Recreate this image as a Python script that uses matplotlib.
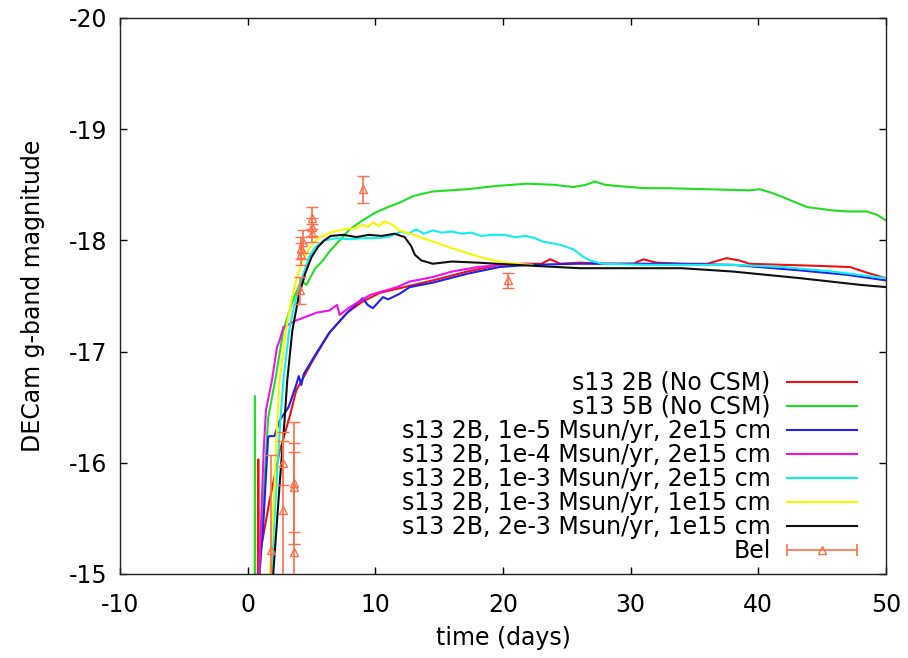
import numpy as np
import matplotlib
matplotlib.use('Agg')
import matplotlib.pyplot as plt
from matplotlib.lines import Line2D
from matplotlib.legend_handler import HandlerLine2D, HandlerTuple

plt.rcParams['font.family'] = 'DejaVu Sans'
plt.rcParams['axes.unicode_minus'] = False

# model light curves: time (days), DECam g-band magnitude
t_2b = [0.80, 0.83, 0.86, 1.0, 1.7, 2.5, 3.3, 3.8, 5.1, 6.4, 7.8, 9.0, 10.4, 11.9, 14.5, 17.2, 19.7,
        21.5, 23.0, 23.7, 24.5, 26.0, 28.0, 30.2, 31.0, 32.0, 34.0, 36.0, 37.5, 38.5, 39.3, 42.0,
        45.0, 47.2, 48.5, 50.0]
m_2b = [-14.5, -16.03, -14.6, -15.2, -15.65, -16.1, -16.42, -16.65, -16.92, -17.17, -17.35, -17.45,
        -17.53, -17.57, -17.64, -17.72, -17.78, -17.79, -17.79, -17.83, -17.79, -17.8, -17.79, -17.79,
        -17.83, -17.8, -17.79, -17.79, -17.84, -17.82, -17.79, -17.78, -17.77, -17.76, -17.71, -17.66]

t_5b = [0.55, 0.57, 0.60, 0.9, 1.3, 1.6, 2.15, 2.8, 3.5, 4.2, 4.6, 5.3, 5.9, 6.4, 7.2, 8.0, 9.0, 10.0,
        11.0, 11.9, 13.0, 14.5, 17.2, 19.5, 21.9, 24.0, 25.5, 26.5, 27.2, 28.0, 28.9, 31.0, 32.8,
        36.0, 39.3, 40.1, 41.0, 41.9, 43.8, 45.8, 47.0, 48.5, 49.3, 50.0]
m_5b = [-14.5, -16.6, -14.5, -14.9, -15.8, -16.4, -16.74, -17.19, -17.45, -17.64, -17.6, -17.75,
        -17.82, -17.9, -18.0, -18.1, -18.18, -18.25, -18.3, -18.34, -18.4, -18.44, -18.46, -18.49,
        -18.51, -18.5, -18.48, -18.5, -18.53, -18.5, -18.49, -18.47, -18.47, -18.46, -18.45, -18.46,
        -18.43, -18.39, -18.3, -18.27, -18.26, -18.26, -18.23, -18.18]

t_m5 = [0.75, 1.2, 1.6, 1.7, 2.1, 2.5, 3.2, 3.8, 4.0, 4.2, 4.4, 5.4, 6.4, 7.8, 9.0, 9.4, 9.8, 10.6,
        11.0, 11.9, 12.7, 14.5, 17.2, 19.7, 22.0, 25.8, 30.0, 33.6, 38.0, 43.3, 47.0, 50.0]
m_m5 = [-14.8, -15.4, -16.23, -16.24, -16.24, -16.38, -16.5, -16.7, -16.78, -16.7, -16.8, -16.99,
        -17.17, -17.35, -17.48, -17.42, -17.39, -17.49, -17.47, -17.52, -17.58, -17.62, -17.7, -17.76,
        -17.78, -17.79, -17.79, -17.79, -17.78, -17.73, -17.69, -17.64]

t_m4 = [0.85, 0.9, 1.25, 1.43, 1.9, 2.3, 2.5, 2.8, 3.8, 5.4, 6.4, 7.0, 7.2, 8.0, 9.6, 11.7, 12.7,
        14.5, 16.0, 18.0, 19.7, 22.0]
m_m4 = [-14.8, -15.0, -16.1, -16.47, -16.74, -17.04, -17.1, -17.22, -17.28, -17.35, -17.37, -17.42,
        -17.33, -17.4, -17.51, -17.58, -17.63, -17.67, -17.72, -17.76, -17.78, -17.79]

t_m3 = [1.85, 2.3, 2.6, 2.8, 3.25, 3.7, 4.2, 4.8, 5.3, 6.0, 7.0, 8.0, 9.0, 10.0, 11.0, 12.0, 12.6,
        13.2, 13.8, 14.5, 15.2, 16.0, 16.8, 17.5, 18.3, 19.1, 20.0, 21.0, 21.8, 22.5, 23.1, 24.5,
        25.5, 26.2, 26.8, 27.8, 31.0, 38.0, 42.0, 45.8, 50.0]
m_m3 = [-15.0, -15.9, -16.45, -16.74, -17.19, -17.45, -17.64, -17.85, -17.94, -18.0, -18.02, -18.01,
        -18.02, -18.02, -18.03, -18.08, -18.06, -18.1, -18.06, -18.09, -18.07, -18.08, -18.06, -18.07,
        -18.04, -18.05, -18.05, -18.03, -18.04, -18.02, -17.99, -17.96, -17.92, -17.86, -17.82, -17.79,
        -17.78, -17.78, -17.76, -17.72, -17.66]

t_m3r1 = [1.75, 2.1, 2.35, 2.5, 3.0, 3.4, 3.8, 4.3, 4.9, 5.5, 6.5, 7.5, 8.5, 9.0, 9.4, 9.8, 10.3,
          10.7, 11.2, 11.9, 13.0, 14.5, 16.0, 17.1, 18.5, 19.7, 21.0, 22.3]
m_m3r1 = [-15.0, -15.8, -16.45, -16.74, -17.19, -17.45, -17.64, -17.82, -17.94, -18.02, -18.07, -18.1,
          -18.11, -18.14, -18.12, -18.16, -18.13, -18.17, -18.15, -18.09, -18.05, -17.99, -17.93,
          -17.89, -17.84, -17.81, -17.79, -17.78]

t_2m3 = [2.0, 2.5, 2.9, 3.1, 3.5, 4.0, 4.5, 5.0, 5.5, 6.0, 6.5, 7.5, 8.5, 9.5, 10.5, 11.5, 12.3,
         12.8, 13.1, 13.6, 14.5, 16.0, 18.0, 21.0, 26.0, 30.0, 34.0, 38.0, 43.3, 48.0, 50.0]
m_2m3 = [-15.0, -15.8, -16.4, -16.74, -17.19, -17.5, -17.7, -17.85, -17.94, -18.0, -18.04, -18.05,
         -18.03, -18.05, -18.04, -18.06, -18.03, -17.95, -17.87, -17.82, -17.79, -17.81, -17.8,
         -17.78, -17.75, -17.75, -17.75, -17.72, -17.66, -17.6, -17.58]

# observed photometry (Bel)
t_bel = [1.8, 2.8, 2.8, 3.65, 3.65, 3.65, 4.1, 4.15, 4.2, 4.3, 5.0, 5.0, 5.05, 9.05, 20.4]
m_bel = [-15.22, -16.0, -15.58, -15.82, -15.78, -15.2, -17.55, -17.88, -17.93, -17.99, -18.07,
         -18.12, -18.2, -18.46, -17.64]
e_bel = [0.85, 0.2, 0.7, 0.55, 0.4, 0.9, 0.12, 0.1, 0.1, 0.1, 0.08, 0.08, 0.1, 0.12, 0.07]

models = [
    (t_2b, m_2b, '#f01010', 's13 2B (No CSM)'),
    (t_5b, m_5b, '#1ee01e', 's13 5B (No CSM)'),
    (t_m5, m_m5, '#2020f0', 's13 2B, 1e-5 Msun/yr, 2e15 cm'),
    (t_m4, m_m4, '#f010f0', 's13 2B, 1e-4 Msun/yr, 2e15 cm'),
    (t_m3, m_m3, '#10f0f0', 's13 2B, 1e-3 Msun/yr, 2e15 cm'),
    (t_m3r1, m_m3r1, '#f8f800', 's13 2B, 1e-3 Msun/yr, 1e15 cm'),
    (t_2m3, m_2m3, '#101010', 's13 2B, 2e-3 Msun/yr, 1e15 cm'),
]
bel_colour = '#ff7048'

fig = plt.figure(figsize=(9.08, 6.58), dpi=100)
ax = fig.add_axes([120/908, 1 - 574/658, 766/908, 556/658])

handles = []
for t, m, c, lab in models:
    ln, = ax.plot(t, m, color=c, lw=1.5, label=lab)
    handles.append(ln)

ax.errorbar(t_bel, m_bel, yerr=e_bel, fmt='^', color=bel_colour, mfc='none', mec=bel_colour,
            ms=6, mew=1.0, elinewidth=1.2, capsize=4, capthick=1.0, zorder=5)

ax.set_xlim(-10, 50)
ax.set_ylim(-15, -20)
ax.set_xticks(np.arange(-10, 51, 10))
ax.set_yticks(np.arange(-20, -14, 1))
ax.tick_params(direction='in', top=True, right=True, length=5, width=1, labelsize=17)
ax.tick_params(axis='x', pad=14)
ax.tick_params(axis='y', pad=9)
for s in ax.spines.values():
    s.set_linewidth(1.0)
    s.set_color('#222222')

ax.set_xlabel('time (days)', fontsize=17)
ax.set_ylabel('DECam g-band magnitude', fontsize=17)
ax.xaxis.set_label_coords(0.5, -(626 - 574) / 556)
ax.yaxis.set_label_coords(-(120 - 45) / 766, 0.5)

# Bel legend sample: |--^--|
bel_line = Line2D([], [], color=bel_colour, lw=1.2, marker='|', ms=9, mew=1.2)
bel_tri = Line2D([], [], color=bel_colour, ls='none', marker='^', ms=6, mfc='none', mew=1.0)
handles.append((bel_line, bel_tri))
labels = [m[3] for m in models] + ['Bel']

leg = ax.legend(handles, labels, loc='lower right', bbox_to_anchor=(0.962, 0.02), frameon=False,
                markerfirst=False, fontsize=17, handlelength=2.95, handletextpad=0.7,
                labelspacing=0.0, borderpad=0, borderaxespad=0,
                handler_map={bel_line: HandlerLine2D(numpoints=2, marker_pad=0),
                             bel_tri: HandlerLine2D(numpoints=1),
                             tuple: HandlerTuple(ndivide=1, pad=0)})
for col in leg._legend_handle_box.get_children():
    col.align = 'right'

fig.savefig('out.png', dpi=100)
